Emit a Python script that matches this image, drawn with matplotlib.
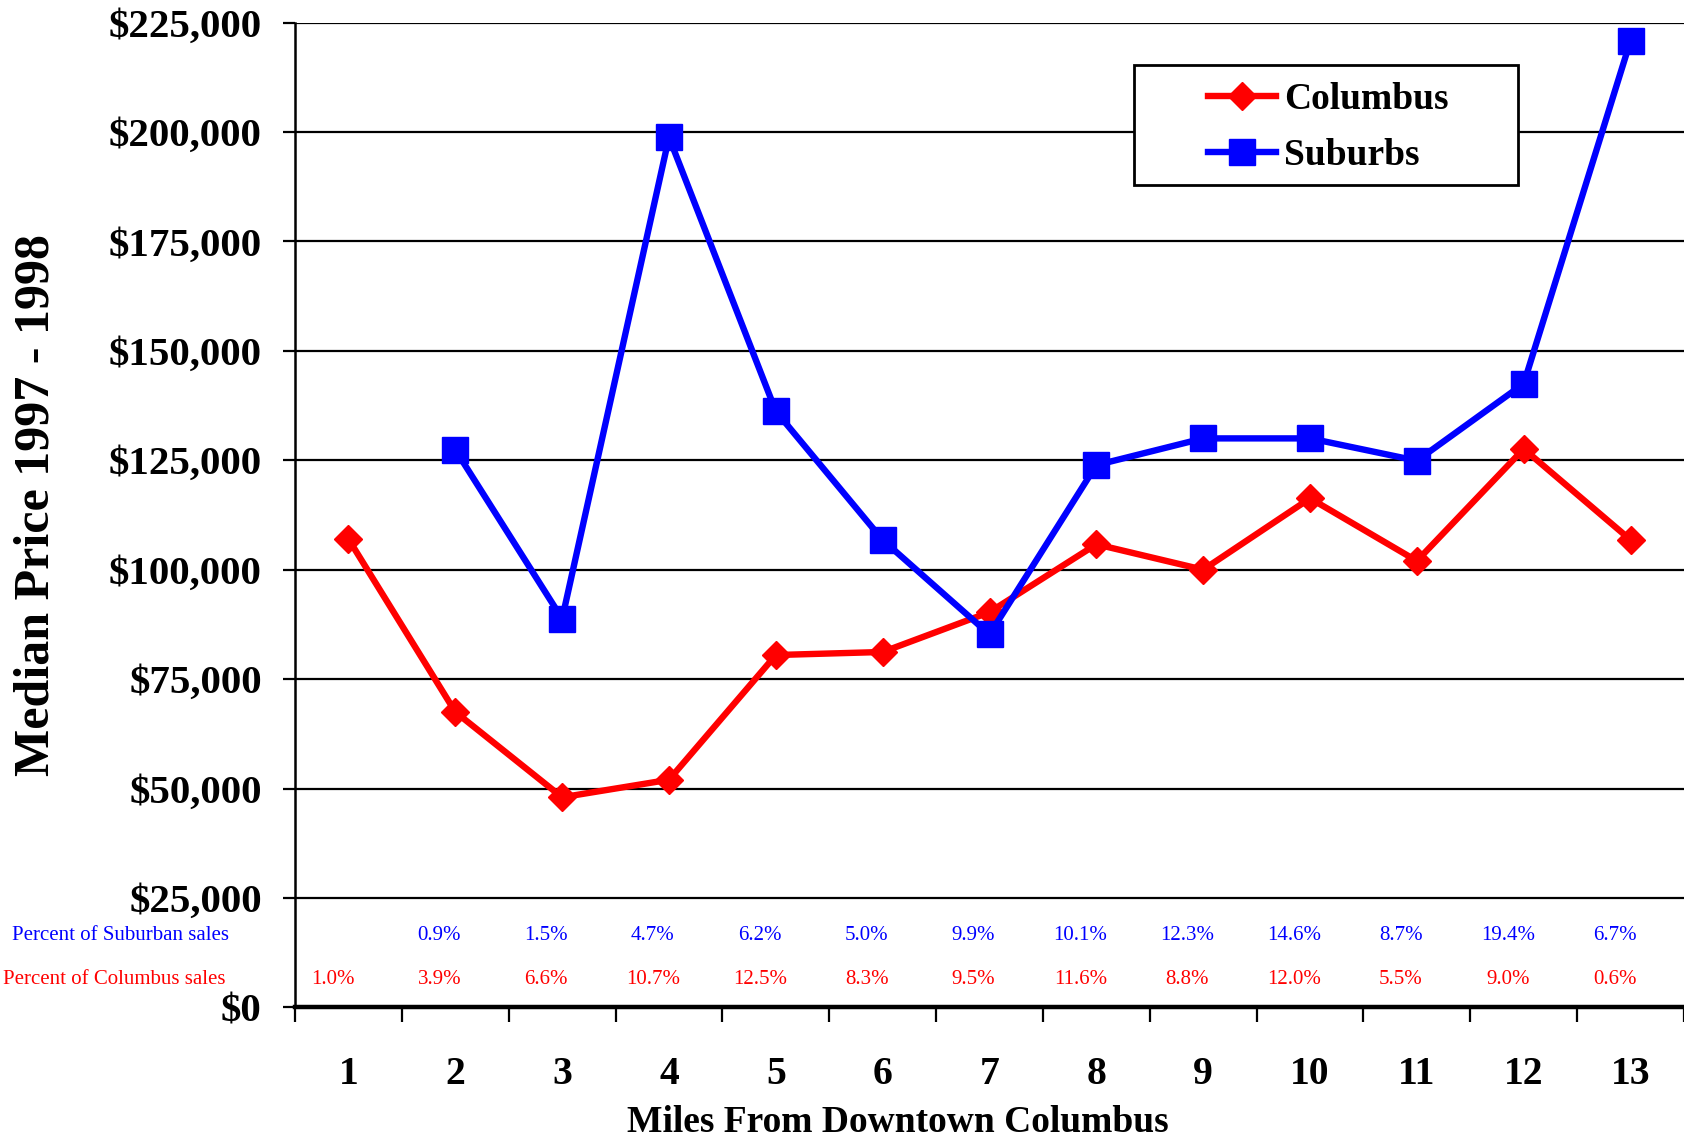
import numpy as np
import matplotlib
matplotlib.use("Agg")
import matplotlib.pyplot as plt
from matplotlib.patches import Rectangle
from matplotlib.ticker import FuncFormatter, FixedLocator

# Miles from downtown Columbus
miles = [1, 2, 3, 4, 5, 6, 7, 8, 9, 10, 11, 12, 13]

# Median sale price 1997-1998
columbus_price = [107000, 67500, 48000, 52000, 80500, 81200, 90300,
                  105800, 100000, 116300, 102000, 127600, 106800]
suburbs_price = [np.nan, 127400, 88800, 198800, 136200, 106800, 85200,
                 123900, 130000, 130000, 124900, 142500, 220900]

# Share of sales within each mile band
suburb_share = ["", "0.9%", "1.5%", "4.7%", "6.2%", "5.0%", "9.9%",
                "10.1%", "12.3%", "14.6%", "8.7%", "19.4%", "6.7%"]
columbus_share = ["1.0%", "3.9%", "6.6%", "10.7%", "12.5%", "8.3%", "9.5%",
                  "11.6%", "8.8%", "12.0%", "5.5%", "9.0%", "0.6%"]

yticks = np.arange(0, 225001, 25000)

serif = ["Liberation Serif", "DejaVu Serif"]
plt.rcParams["font.family"] = serif

W, H = 1684, 1142
fig = plt.figure(figsize=(W / 100, H / 100), dpi=100)
ax = fig.add_axes([0.1752, 0.1179, 0.8248, 0.8623])

ax.plot(miles, columbus_price, color="#ff0000", lw=4.6, marker="D",
        markersize=14, label="Columbus", zorder=3, clip_on=False)
ax.plot(miles, suburbs_price, color="#0000ff", lw=4.6, marker="s",
        markersize=18.5, label="Suburbs", zorder=4, clip_on=False)

ax.set_xlim(0.5, 13.5)
ax.set_ylim(0, 225000)

# Horizontal gridlines at each price step
for v in yticks[1:]:
    ax.axhline(v, color="black", lw=1.6, zorder=1)
ax.axhline(0, color="black", lw=3.2, zorder=2, clip_on=False)

for s in ["top", "right", "bottom"]:
    ax.spines[s].set_visible(False)
ax.spines["left"].set_linewidth(1.8)

ax.set_yticks(yticks)
ax.yaxis.set_major_formatter(FuncFormatter(lambda v, p: "${:,.0f}".format(v)))
ax.tick_params(axis="y", direction="out", length=9, width=1.6, pad=15,
               labelsize=29.5)
for lbl in ax.get_yticklabels():
    lbl.set_fontweight("bold")

ax.set_xticks(miles)
ax.set_xticklabels([str(m) for m in miles])
ax.xaxis.set_minor_locator(FixedLocator(np.arange(0.5, 13.6, 1.0)))
ax.tick_params(axis="x", which="major", length=0, pad=35, labelsize=28.5)
ax.tick_params(axis="x", which="minor", direction="out", length=11, width=1.6)
for lbl in ax.get_xticklabels():
    lbl.set_fontweight("bold")

ax.set_xlabel("Miles From Downtown Columbus", fontsize=27, fontweight="bold",
              va="center", ha="center")
ax.xaxis.set_label_coords((898 - 295) / 1389, -(1123 - 1007.4) / 985)
ax.set_ylabel("Median Price 1997 - 1998", fontsize=36, fontweight="bold",
              va="center", ha="center")
ax.yaxis.set_label_coords((36.6 - 295) / 1389, 1 - (505 - 22.6) / 985)

# Share-of-sales rows beneath the curves
for m, s_txt, c_txt in zip(miles, suburb_share, columbus_share):
    ax.text(m - 0.15, 16400, s_txt, color="#0000ff", fontsize=15,
            ha="center", va="center")
    ax.text(m - 0.15, 6400, c_txt, color="#ff0000", fontsize=15,
            ha="center", va="center")

fig.text(12 / W, 1 - 935 / H, "Percent of Suburban sales",
         color="#0000ff", fontsize=15, ha="left", va="center")
fig.text(3 / W, 1 - 979 / H, "Percent of Columbus sales",
         color="#ff0000", fontsize=15, ha="left", va="center")

# Legend: entries plus a plain rectangular frame behind them
box_x0, box_x1, box_y0, box_y1 = 1134, 1518, 65.5, 184.7
ax.add_patch(Rectangle((box_x0 / W, 1 - box_y1 / H),
                       (box_x1 - box_x0) / W, (box_y1 - box_y0) / H,
                       transform=fig.transFigure, facecolor="white",
                       edgecolor="black", lw=2.0, zorder=5, clip_on=False))
leg = ax.legend(loc="center left", bbox_to_anchor=(1208 / W, 1 - 127.5 / H),
                bbox_transform=fig.transFigure, frameon=False,
                handlelength=1.8, borderpad=0, labelspacing=0.58,
                handletextpad=0.23, borderaxespad=0,
                prop={"family": serif, "weight": "bold", "size": 27})
leg.set_zorder(6)

fig.savefig("out.png", dpi=100)
